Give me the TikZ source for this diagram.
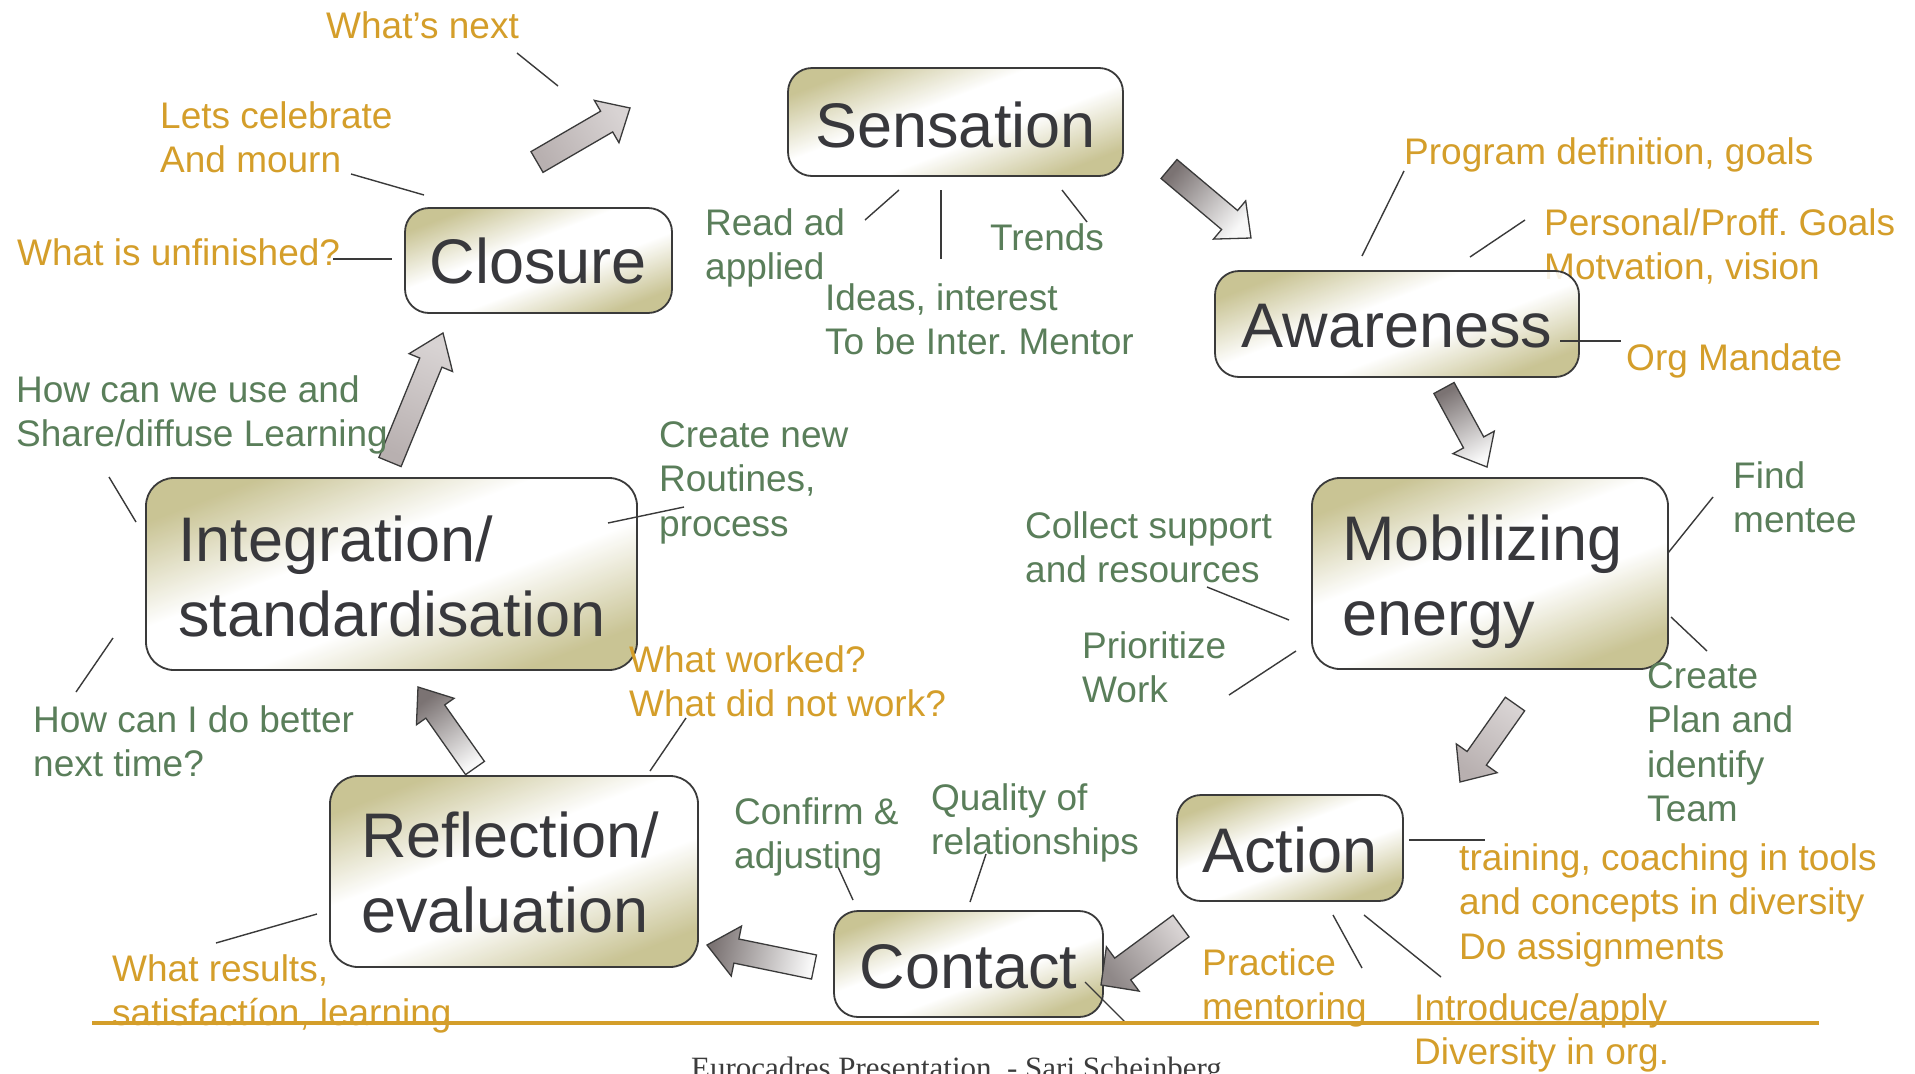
\documentclass[tikz,border=0pt]{standalone}
\usepackage{fontspec}
\setmainfont{Liberation Sans}
\newfontfamily\footfont{Liberation Serif}
\usetikzlibrary{calc}
\definecolor{gold}{HTML}{D49E2A}
\definecolor{grntxt}{HTML}{5A7E5A}
\definecolor{olive}{HTML}{C2BC86}
\definecolor{boxtxt}{HTML}{38383C}
\definecolor{edge}{HTML}{3A3A3A}
\definecolor{foot}{HTML}{3C3C3C}
\definecolor{aDark}{HTML}{7B7373}
\definecolor{aMid}{HTML}{B8B0B0}
\definecolor{aLight}{HTML}{D8D3D3}
\definecolor{aWhite}{HTML}{F8F8F8}
\pgfdeclareverticalshading{boxshade}{100bp}{color(0bp)=(olive); color(25bp)=(olive); color(43bp)=(white); color(57bp)=(white); color(75bp)=(olive); color(100bp)=(olive)}
\newcommand{\mlines}[1]{\begin{tabular}[t]{@{}l@{}}#1\end{tabular}}
% tail, tip, half shaft, half head, head length, tail colour, tip colour, shading angle
\newcommand{\blockarrow}[8]{%
  \path (#1) coordinate (ba-t) (#2) coordinate (ba-p);
  \path ($(ba-p)!#5!(ba-t)$) coordinate (ba-b);
  \path[draw=edge, line width=1.3pt, line join=miter, top color=#6, bottom color=#7, shading angle=#8]
    ($(ba-t)!#3!90:(ba-p)$) -- ($(ba-b)!#3!-90:(ba-t)$) -- ($(ba-b)!#4!-90:(ba-t)$) -- (ba-p)
    -- ($(ba-b)!#4!90:(ba-t)$) -- ($(ba-b)!#3!90:(ba-t)$) -- ($(ba-t)!#3!-90:(ba-p)$) -- cycle;
}
\tikzset{
  boxs/.style={draw=edge, line width=1.8pt, rounded corners=24pt, shading=boxshade, shading angle=21, fill opacity=0.88, inner sep=0pt},
  boxtext/.style={text=boxtxt, font=\fontsize{63}{75}\selectfont, inner sep=0pt},
  ann/.style={font=\fontsize{37}{44.5}\selectfont\frenchspacing, inner sep=0pt, anchor=base west},
  orng/.style={ann, text=gold},
  grn/.style={ann, text=grntxt},
  lead/.style={draw=edge, line width=1.4pt},
}
\begin{document}
\frenchspacing
\begin{tikzpicture}[x=1pt, y=-1pt]
\useasboundingbox (0,0) rectangle (1915,1074);
\clip (0,0) rectangle (1915,1074);
\fill[white] (0,0) rectangle (1915,1074);

% text partly under the Awareness box
\node[orng] (pp) at (1544,235) {\mlines{Personal/Proff. Goals\\Motvation, vision}};

% boxes
\node[boxs, minimum width=335pt, minimum height=108pt] (sens) at (955.5,122) {};
\node[boxs, minimum width=267pt, minimum height=105pt] (clos) at (538.5,260.5) {};
\node[boxs, minimum width=364pt, minimum height=106pt] (awar) at (1397,324) {};
\node[boxs, minimum width=356pt, minimum height=191pt, rounded corners=28pt] (mobi) at (1490,573.5) {};
\node[boxs, minimum width=491pt, minimum height=192pt, rounded corners=28pt] (inte) at (391.5,574) {};
\node[boxs, minimum width=368pt, minimum height=191pt, rounded corners=28pt] (refl) at (514,871.5) {};
\node[boxs, minimum width=226pt, minimum height=106pt] (acti) at (1290,848) {};
\node[boxs, minimum width=269pt, minimum height=106pt] (cont) at (968.5,964) {};

% box texts
\node[boxtext, anchor=base] (senst) at (955.5,147) {Sensation};
\node[boxtext, anchor=base] (clost) at (538.5,283) {Closure};
\node[boxtext, anchor=base] (awart) at (1397,347) {Awareness};
\node[boxtext, anchor=base] (actit) at (1290,872) {Action};
\node[boxtext, anchor=base] (contt) at (968.5,988) {Contact};
\node[boxtext, anchor=base west] (mobit) at (1342,560) {\mlines{Mobilizing\\energy}};
\node[boxtext, anchor=base west] (intet) at (178,561) {\mlines{Integration/\\standardisation}};
\node[boxtext, anchor=base west] (reflt) at (361,857) {\mlines{Reflection/\\evaluation}};

% block arrows between the stages
\blockarrow{537,162}{630,108}{12pt}{24.5pt}{27pt}{aMid}{aLight}{120}
\blockarrow{1169,169}{1251,238}{12.4pt}{25pt}{28pt}{aDark}{aWhite}{50}
\blockarrow{1444,388}{1487,467}{11.5pt}{23.5pt}{28pt}{aDark}{aWhite}{28.6}
\blockarrow{1515,704}{1460,782}{11.8pt}{25pt}{29pt}{aLight}{aMid}{-35}
\blockarrow{1181,926}{1101,985}{13.5pt}{27.5pt}{27pt}{aLight}{aDark!85!white}{-53.6}
\blockarrow{814,967}{707,945}{12.3pt}{25.5pt}{30pt}{aWhite}{aDark}{-101.6}
\blockarrow{475,768}{418,687}{11.5pt}{23pt}{30pt}{aWhite}{aDark}{-145}
\blockarrow{390,462}{443,333}{12pt}{23.5pt}{32pt}{aMid}{aLight}{157.7}

% leader lines
\draw[lead] (517,53) coordinate (l1a) -- (558,86) coordinate (l1b);
\draw[lead] (351,174) coordinate (l2a) -- (424,195) coordinate (l2b);
\draw[lead] (333,259) coordinate (l3a) -- (392,259) coordinate (l3b);
\draw[lead] (865,220) coordinate (l4a) -- (899,190) coordinate (l4b);
\draw[lead] (941,190) coordinate (l5a) -- (941,259) coordinate (l5b);
\draw[lead] (1062,190) coordinate (l6a) -- (1087,222) coordinate (l6b);
\draw[lead] (1404,171) coordinate (l7a) -- (1362,256) coordinate (l7b);
\draw[lead] (1525,220) coordinate (l8a) -- (1470,257) coordinate (l8b);
\draw[lead] (1560,341) coordinate (l9a) -- (1621,341) coordinate (l9b);
\draw[lead] (1668,553) coordinate (l10a) -- (1713,497) coordinate (l10b);
\draw[lead] (1671,617) coordinate (l11a) -- (1707,651) coordinate (l11b);
\draw[lead] (1207,587) coordinate (l12a) -- (1289,620) coordinate (l12b);
\draw[lead] (1229,695) coordinate (l13a) -- (1296,651) coordinate (l13b);
\draw[lead] (608,523) coordinate (l14a) -- (684,507) coordinate (l14b);
\draw[lead] (109,477) coordinate (l15a) -- (136,522) coordinate (l15b);
\draw[lead] (113,638) coordinate (l16a) -- (76,692) coordinate (l16b);
\draw[lead] (686,718) coordinate (l17a) -- (650,771) coordinate (l17b);
\draw[lead] (216,943) coordinate (l18a) -- (317,914) coordinate (l18b);
\draw[lead] (838,867) coordinate (l19a) -- (853,900) coordinate (l19b);
\draw[lead] (986,854) coordinate (l20a) -- (970,902) coordinate (l20b);
\draw[lead] (1409,840) coordinate (l21a) -- (1485,840) coordinate (l21b);
\draw[lead] (1333,915) coordinate (l22a) -- (1362,968) coordinate (l22b);
\draw[lead] (1364,915) coordinate (l23a) -- (1441,977) coordinate (l23b);
\draw[lead] (1085,982) coordinate (l24a) -- (1126,1023) coordinate (l24b);

% orange annotations
\node[orng] (wn) at (326,38) {What’s next};
\node[orng] (lc) at (160,128) {\mlines{Lets celebrate\\And mourn}};
\node[orng] (wu) at (17,265) {What is unfinished?};
\node[orng] (pd) at (1404,164) {Program definition, goals};
\node[orng] (om) at (1626,370) {Org Mandate};
\node[orng] (ww) at (629,672) {\mlines{What worked?\\What did not work?}};
\node[orng] (wr) at (112,981) {\mlines{What results,\\satisfactíon, learning}};
\node[orng] (tr) at (1459,870) {\mlines{training, coaching in tools\\and concepts in diversity\\Do assignments}};
\node[orng] (pm) at (1202,975) {\mlines{Practice\\mentoring}};
\node[orng] (ia) at (1414,1020) {\mlines{Introduce/apply\\Diversity in org.}};

% green annotations
\node[grn] (ra) at (705,235) {\mlines{Read ad\\applied}};
\node[grn] (ii) at (825,310) {\mlines{Ideas, interest\\To be Inter. Mentor}};
\node[grn] (tn) at (990,250) {Trends};
\node[grn] (hw) at (16,402) {\mlines{How can we use and\\Share/diffuse Learning}};
\node[grn] (cn) at (659,447) {\mlines{Create new\\Routines,\\process}};
\node[grn] (hi) at (33,732) {\mlines{How can I do better\\next time?}};
\node[grn] (cs) at (1025,538) {\mlines{Collect support\\and resources}};
\node[grn] (pw) at (1082,658) {\mlines{Prioritize\\Work}};
\node[grn] (fm) at (1733,488) {\mlines{Find\\mentee}};
\node[grn] (cp) at (1647,688) {\mlines{Create\\Plan and\\identify\\Team}};
\node[grn] (ca) at (734,824) {\mlines{Confirm \&\\adjusting}};
\node[grn] (qr) at (931,810) {\mlines{Quality of\\relationships}};

% footer rule and text
\draw[gold, line width=4pt] (92,1023) coordinate (ruleL) -- (1819,1023) coordinate (ruleR);
\node[inner sep=0pt, anchor=base west, text=foot, font=\footfont\fontsize{31}{36}\selectfont] (footer) at (691,1078) {Eurocadres Presentation\ \ - Sari Scheinberg};
\end{tikzpicture}
\end{document}
